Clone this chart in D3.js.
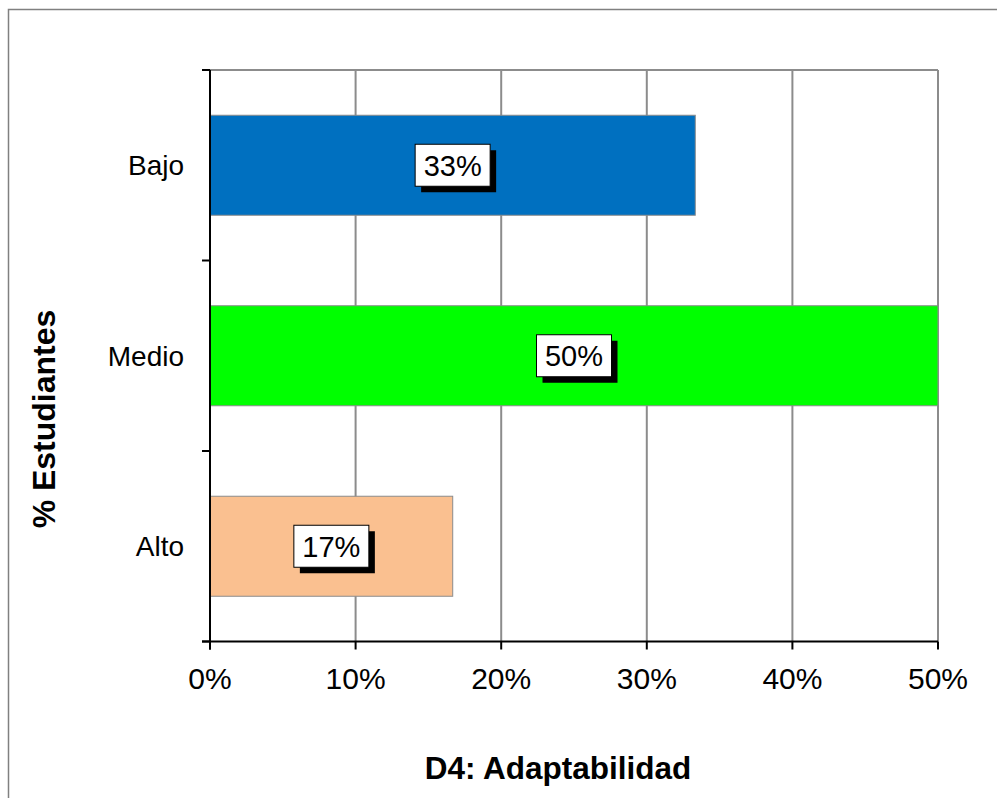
<!DOCTYPE html>
<html>
<head>
<meta charset="utf-8">
<script src="https://cdn.jsdelivr.net/npm/d3@7"></script>
<style>
  html, body { margin: 0; padding: 0; background: #fff; }
  svg { display: block; }
  text { font-family: "Liberation Sans", Arial, sans-serif; }
</style>
</head>
<body>
<svg id="chart" width="997" height="798"></svg>
<script>
const categories = ["Bajo", "Medio", "Alto"];
const values = [33.33, 50, 16.67];
const colors = ["#0070C0", "#00FF00", "#FAC090"];
const xTicks = [0, 10, 20, 30, 40, 50];
const xTitle = "D4: Adaptabilidad";
const yTitle = "% Estudiantes";

const svg = d3.select("#chart");
const W = 997, H = 798;
const plot = { left: 210, right: 938, top: 70, bottom: 641.5 };

// chart area border
svg.append("rect")
  .attr("x", 8.5).attr("y", 9.5)
  .attr("width", W + 20).attr("height", H + 40)
  .attr("fill", "#fff").attr("stroke", "#808080").attr("stroke-width", 1.5);

const x = d3.scaleLinear().domain([0, 50]).range([plot.left, plot.right]);
const y = d3.scaleBand().domain(categories).range([plot.top, plot.bottom])
  .paddingInner(0.475).paddingOuter(0.2375);

// gridlines
svg.append("g").selectAll("line").data(xTicks.slice(1)).join("line")
  .attr("x1", d => x(d)).attr("x2", d => x(d))
  .attr("y1", plot.top).attr("y2", plot.bottom)
  .attr("stroke", "#8c8c8c").attr("stroke-width", 2);
// plot area top border
svg.append("line")
  .attr("x1", plot.left).attr("x2", plot.right)
  .attr("y1", plot.top).attr("y2", plot.top)
  .attr("stroke", "#8c8c8c").attr("stroke-width", 2);

// bars
svg.append("g").selectAll("rect").data(categories).join("rect")
  .attr("x", x(0))
  .attr("y", d => y(d))
  .attr("width", (d, i) => x(values[i]) - x(0))
  .attr("height", y.bandwidth())
  .attr("fill", (d, i) => colors[i])
  .attr("stroke", "#8c8c8c").attr("stroke-width", 1);

// axes
const yAxisG = svg.append("g");
yAxisG.append("line")
  .attr("x1", plot.left).attr("x2", plot.left)
  .attr("y1", plot.top).attr("y2", plot.bottom + 8)
  .attr("stroke", "#000").attr("stroke-width", 2);
const step = y.step();
const yTickPos = d3.range(categories.length + 1).map(i => plot.top + i * step);
yAxisG.selectAll("line.tick").data(yTickPos).join("line").attr("class", "tick")
  .attr("x1", plot.left - 8).attr("x2", plot.left)
  .attr("y1", d => d).attr("y2", d => d)
  .attr("stroke", "#000").attr("stroke-width", 2);
yAxisG.selectAll("text").data(categories).join("text")
  .attr("x", plot.left - 26)
  .attr("y", d => y(d) + y.bandwidth() / 2)
  .attr("dy", "0.35em")
  .attr("text-anchor", "end")
  .attr("font-size", 28)
  .text(d => d);

const xAxisG = svg.append("g");
xAxisG.append("line")
  .attr("x1", plot.left - 8).attr("x2", plot.right)
  .attr("y1", plot.bottom).attr("y2", plot.bottom)
  .attr("stroke", "#000").attr("stroke-width", 2);
xAxisG.selectAll("line.tick").data(xTicks).join("line").attr("class", "tick")
  .attr("x1", d => x(d)).attr("x2", d => x(d))
  .attr("y1", plot.bottom).attr("y2", plot.bottom + 8)
  .attr("stroke", "#000").attr("stroke-width", 2);
xAxisG.selectAll("text").data(xTicks).join("text")
  .attr("x", d => x(d))
  .attr("y", 689)
  .attr("text-anchor", "middle")
  .attr("font-size", 30)
  .text(d => d + "%");

// data labels
const lab = svg.append("g").selectAll("g").data(categories).join("g")
  .attr("transform", (d, i) => `translate(${(x(0) + x(values[i])) / 2},${y(d) + y.bandwidth() / 2})`);
lab.each(function(d, i) {
  const g = d3.select(this);
  const t = Math.round(values[i]) + "%";
  const bw = 75, bh = 42;
  g.append("rect").attr("x", -bw / 2 + 6).attr("y", -bh / 2 + 6)
    .attr("width", bw).attr("height", bh).attr("fill", "#000");
  g.append("rect").attr("x", -bw / 2).attr("y", -bh / 2)
    .attr("width", bw).attr("height", bh)
    .attr("fill", "#fff").attr("stroke", "#000").attr("stroke-width", 1);
  g.append("text").attr("x", 0).attr("y", 0).attr("dy", "0.36em")
    .attr("text-anchor", "middle").attr("font-size", 29).text(t);
});

// titles
svg.append("text")
  .attr("x", 558).attr("y", 779)
  .attr("text-anchor", "middle")
  .attr("font-size", 31.5).attr("font-weight", "bold")
  .text(xTitle);
svg.append("text")
  .attr("transform", "translate(55,419) rotate(-90)")
  .attr("text-anchor", "middle")
  .attr("font-size", 32).attr("font-weight", "bold")
  .text(yTitle);
</script>
</body>
</html>
